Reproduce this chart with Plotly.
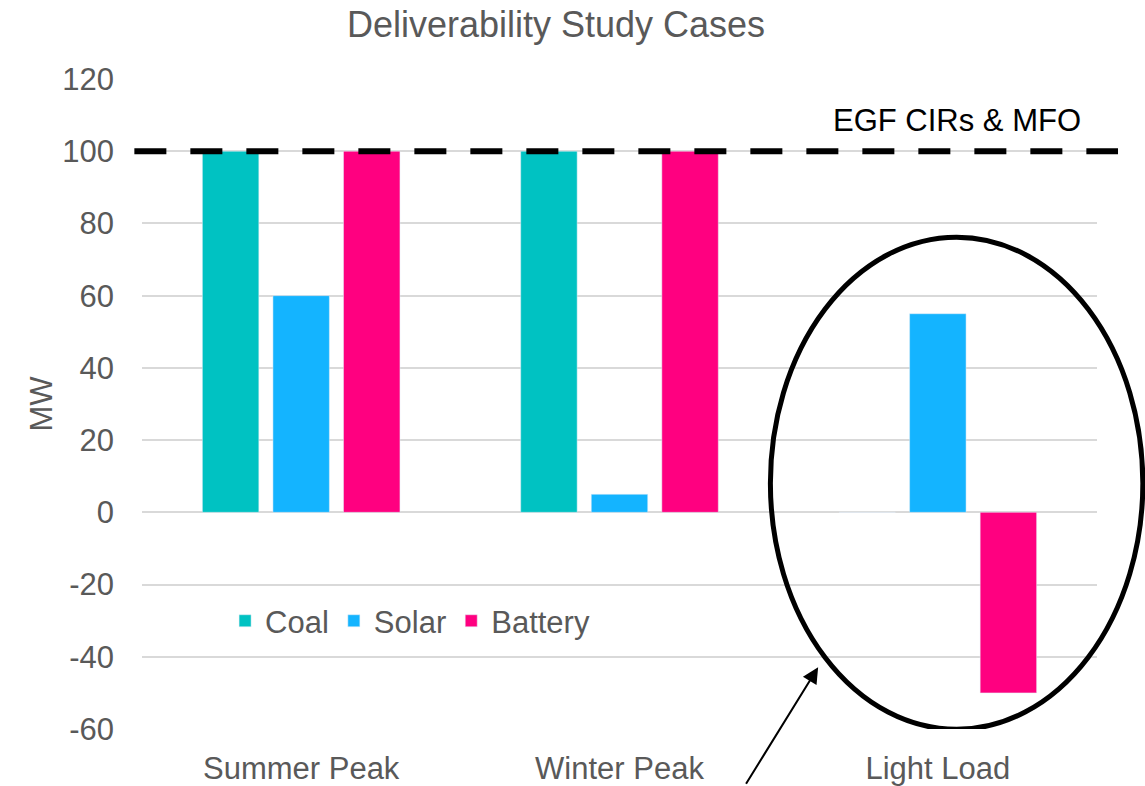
import plotly.graph_objects as go

categories = ["Summer Peak", "Winter Peak", "Light Load"]
coal = [100, 100, 0]
solar = [60, 5, 55]
battery = [100, 100, -50]
threshold = 100
threshold_label = "EGF CIRs & MFO"
y_ticks = [-60, -40, -20, 0, 20, 40, 60, 80, 100, 120]
y_tick_text = [str(v) for v in y_ticks]

FONT = "Liberation Sans, Arial, sans-serif"
GRAY = "#595959"

fig = go.Figure()
fig.add_trace(go.Bar(name="Coal", x=categories, y=coal, marker_color="#00C2C2"))
fig.add_trace(go.Bar(name="Solar", x=categories, y=solar, marker_color="#14B4FF"))
fig.add_trace(go.Bar(name="Battery", x=categories, y=battery, marker_color="#FF0080"))

# dashed threshold line
fig.add_shape(type="line", xref="paper", yref="y", x0=-0.008, x1=1.022,
              y0=threshold, y1=threshold,
              line=dict(color="black", width=6, dash="32px,24px"), layer="above")
fig.add_annotation(xref="paper", yref="y", x=0.985, y=threshold, text=threshold_label,
                   showarrow=False, xanchor="right", yanchor="bottom", yshift=11,
                   font=dict(family=FONT, size=31, color="black"))

# ellipse around Light Load
fig.add_shape(type="circle", xref="paper", yref="y", x0=0.658, x1=1.048,
              y0=-60.1, y1=76.2, line=dict(color="black", width=5), layer="above")

# arrow
fig.add_annotation(xref="paper", yref="y", x=0.708, y=-42.9, ax=-73, ay=118,
                   axref="pixel", ayref="pixel", text="", showarrow=True,
                   arrowhead=2, arrowsize=1.6, arrowwidth=2, arrowcolor="black")

fig.update_layout(
    width=1145, height=786,
    margin=dict(l=142, r=48, t=79, b=57, autoexpand=False),
    paper_bgcolor="white", plot_bgcolor="white",
    barmode="group", bargap=0.335, bargroupgap=0.2,
    title=dict(text="Deliverability Study Cases", x=0.4856, xanchor="center",
               y=0.9695, yanchor="middle", automargin=False,
               font=dict(family=FONT, size=36, color=GRAY)),
    font=dict(family=FONT, size=31, color=GRAY),
    legend=dict(orientation="h", x=0.087, y=0.166, xanchor="left", yanchor="middle",
                bgcolor="rgba(0,0,0,0)", font=dict(size=31, color=GRAY),
                itemwidth=30, tracegroupgap=0),
    yaxis=dict(range=[-60, 120], tickvals=y_ticks, ticktext=y_tick_text,
               showgrid=True, automargin=False,
               gridcolor="#D9D9D9", gridwidth=1.5, zeroline=False,
               showline=False, ticks="", ticklabelstandoff=27,
               title=dict(text="MW", standoff=0,
               font=dict(size=31, color=GRAY)),
               tickfont=dict(size=31, color=GRAY)),
    xaxis=dict(showline=False, ticks="", showgrid=False, automargin=False,
               ticklabelstandoff=18,
               tickfont=dict(size=31, color=GRAY)),
)

fig.write_html("out.html", config={"displayModeBar": False},
               post_script="document.body.style.margin='0';document.body.style.overflow='hidden';")
